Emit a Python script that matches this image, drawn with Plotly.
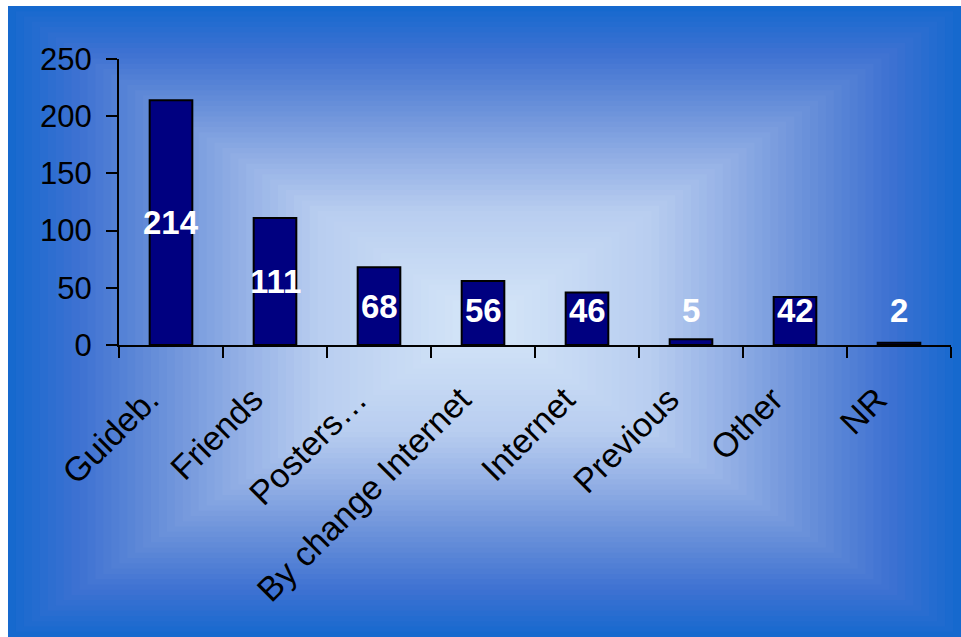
import plotly.graph_objects as go

# Survey answers: how visitors heard about the place
categories = ["Guideb.", "Friends", "Posters…", "By change Internet",
              "Internet", "Previous", "Other", "NR"]
counts = [214, 111, 68, 56, 46, 5, 42, 2]
y_ticks = [0, 50, 100, 150, 200, 250]

W, H = 961, 637
FONT = "Arial, Liberation Sans, sans-serif"

fig = go.Figure()

fig.add_trace(go.Bar(
    x=categories,
    y=counts,
    marker=dict(color="#000080", line=dict(color="#000000", width=2)),
    hoverinfo="x+y",
))

# Value labels, centred in the bar (kept clear of the axis for short bars)
for cat, v in zip(categories, counts):
    fig.add_annotation(
        x=cat, y=max(v / 2, 30), text=str(v), showarrow=False,
        xref="x", yref="y", yanchor="middle",
        font=dict(family=FONT, size=33, color="white", weight="bold"),
    )

# Rectangular "from centre" gradient background built from nested rectangles
stops = [
    (0.00, (214, 231, 248)),
    (0.35, (184, 205, 240)),
    (0.50, (150, 178, 230)),
    (0.70, (100, 140, 216)),
    (0.85, (62, 114, 210)),
    (1.00, (20, 104, 206)),
]


def grad_color(t):
    for (t0, c0), (t1, c1) in zip(stops[:-1], stops[1:]):
        if t <= t1:
            f = (t - t0) / (t1 - t0)
            return "rgb(%d,%d,%d)" % tuple(round(a + (b - a) * f) for a, b in zip(c0, c1))
    return "rgb(%d,%d,%d)" % stops[-1][1]


left, right, top, bottom = 8, W, 6, H
cx, cy = (left + right) / 2, (top + bottom) / 2
hw, hh = (right - left) / 2, (bottom - top) / 2
N = 60
shapes = []
for i in range(N, 0, -1):
    t = i / N
    x0, x1 = cx - hw * t, cx + hw * t
    y0, y1 = cy - hh * t, cy + hh * t
    shapes.append(dict(
        type="rect", xref="paper", yref="paper", layer="below",
        x0=x0 / W, x1=x1 / W, y0=1 - y1 / H, y1=1 - y0 / H,
        line=dict(width=0), fillcolor=grad_color(t - 0.5 / N),
    ))

x_left, x_right = 119, 951
y_zero, y_top = 345, 59

fig.update_layout(
    width=W, height=H,
    margin=dict(l=0, r=0, t=0, b=0, autoexpand=False),
    paper_bgcolor="white",
    plot_bgcolor="rgba(0,0,0,0)",
    showlegend=False,
    bargap=0.59,
    shapes=shapes,
    font=dict(family=FONT, size=31, color="black"),
    xaxis=dict(
        domain=[x_left / W, x_right / W],
        range=[-0.5, len(categories) - 0.5],
        showline=True, linecolor="black", linewidth=2,
        ticks="outside", ticklen=11, tickwidth=2, tickcolor="black",
        tickson="boundaries",
        tickangle=-45,
        tickfont=dict(family=FONT, size=34, color="black"),
        ticklabelstandoff=19,
        ticklabelshift=-22,
        showgrid=False, zeroline=False, fixedrange=True,
        automargin=False,
        anchor="y",
    ),
    yaxis=dict(
        domain=[1 - y_zero / H, 1 - y_top / H],
        range=[0, 250],
        tickvals=y_ticks,
        showline=True, linecolor="black", linewidth=2,
        ticks="outside", ticklen=11, tickwidth=2, tickcolor="black",
        tickfont=dict(family=FONT, size=31, color="black"),
        ticklabelstandoff=8,
        showgrid=False, zeroline=False, fixedrange=True,
        automargin=False,
        anchor="x",
    ),
)

fig.write_html("out.html")
